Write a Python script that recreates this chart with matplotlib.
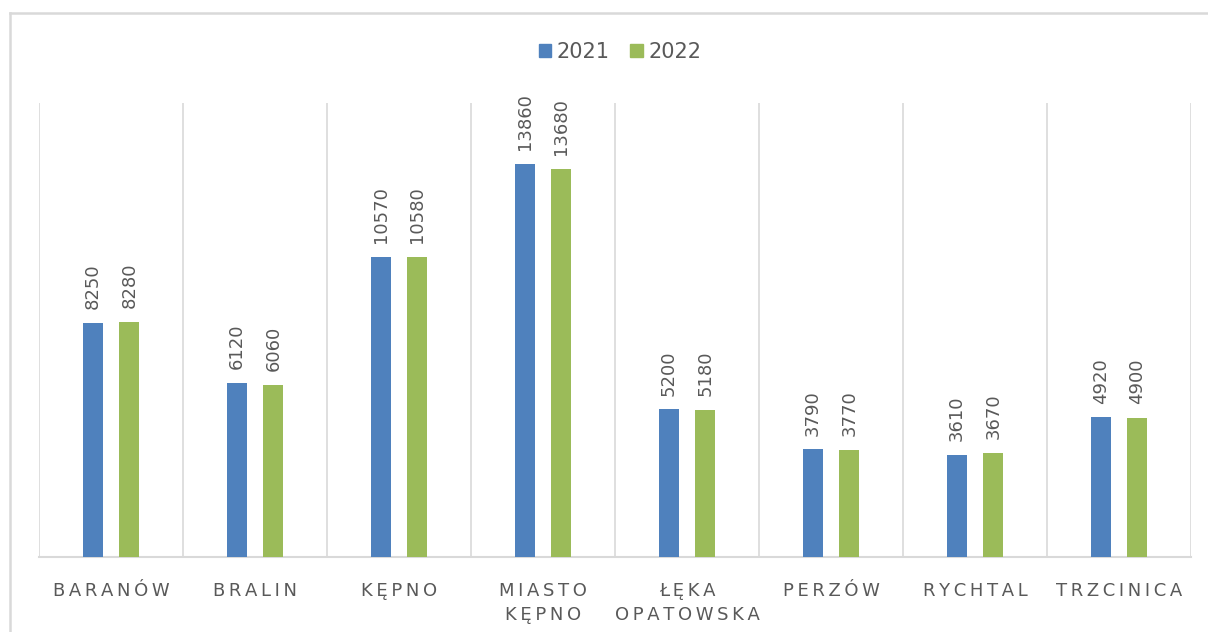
import matplotlib
matplotlib.use("Agg")
import matplotlib.pyplot as plt
from matplotlib.lines import Line2D
import numpy as np

categories = ["BARANÓW", "BRALIN", "KĘPNO", "MIASTO\nKĘPNO", "ŁĘKA\nOPATOWSKA",
              "PERZÓW", "RYCHTAL", "TRZCINICA"]
series_names = ["2021", "2022"]
values_2021 = [8250, 6120, 10570, 13860, 5200, 3790, 3610, 4920]
values_2022 = [8280, 6060, 10580, 13680, 5180, 3770, 3670, 4900]
colors = ["#4F81BD", "#9BBB59"]

W, H = 1208, 632
fig = plt.figure(figsize=(W / 100, H / 100), dpi=100)
plt.rcParams['font.family'] = ['DejaVu Sans']

def fx(px):
    return px / W

def fy(py):
    return 1 - py / H

ax = fig.add_axes([fx(39), fy(557), fx(1191) - fx(39), fy(103) - fy(557)])
x = np.arange(len(categories))
off = 0.128
bw = 0.139
grey_txt = "#595959"
grid_c = "#D9D9D9"

for vals, name, col, d in [(values_2021, series_names[0], colors[0], -off),
                           (values_2022, series_names[1], colors[1], off)]:
    ax.bar(x + d, vals, width=bw, color=col, label=name, zorder=3)
    for xi, v in zip(x + d, vals):
        ax.annotate(f"{v}", (xi, v), xytext=(0, 10), textcoords="offset points",
                    rotation=90, ha="center", va="bottom", fontsize=13,
                    color=grey_txt)

ax.set_xlim(-0.5, len(categories) - 0.5)
ax.set_ylim(0, 16000)
for b in np.arange(-0.5, len(categories), 1.0):
    ax.axvline(b, color=grid_c, lw=1.2, zorder=1)
for s in ["left", "right", "top"]:
    ax.spines[s].set_visible(False)
ax.spines["bottom"].set_color(grid_c)
ax.spines["bottom"].set_linewidth(1.5)
ax.set_yticks([])
ax.set_xticks(x)
spaced = ["\n".join("\u2009".join(list(line)) for line in c.split("\n")) for c in categories]
ax.set_xticklabels(spaced, fontsize=13, color=grey_txt, linespacing=1.4)
ax.tick_params(axis="x", length=0, pad=18)

handles = [plt.Rectangle((0, 0), 1, 1, color=c) for c in colors]
fig.legend(handles, series_names, loc="center", bbox_to_anchor=(fx(620), fy(52)),
           ncol=2, frameon=False, fontsize=15, labelcolor=grey_txt,
           handlelength=0.6, handleheight=0.6, handletextpad=0.25,
           columnspacing=1.0)

fig.add_artist(Line2D([fx(10), 1.0], [fy(13), fy(13)], color=grid_c, lw=1.8,
                      transform=fig.transFigure))
fig.add_artist(Line2D([fx(10), fx(10)], [fy(13), 0.0], color=grid_c, lw=1.8,
                      transform=fig.transFigure))

fig.savefig("out.png", dpi=100)
